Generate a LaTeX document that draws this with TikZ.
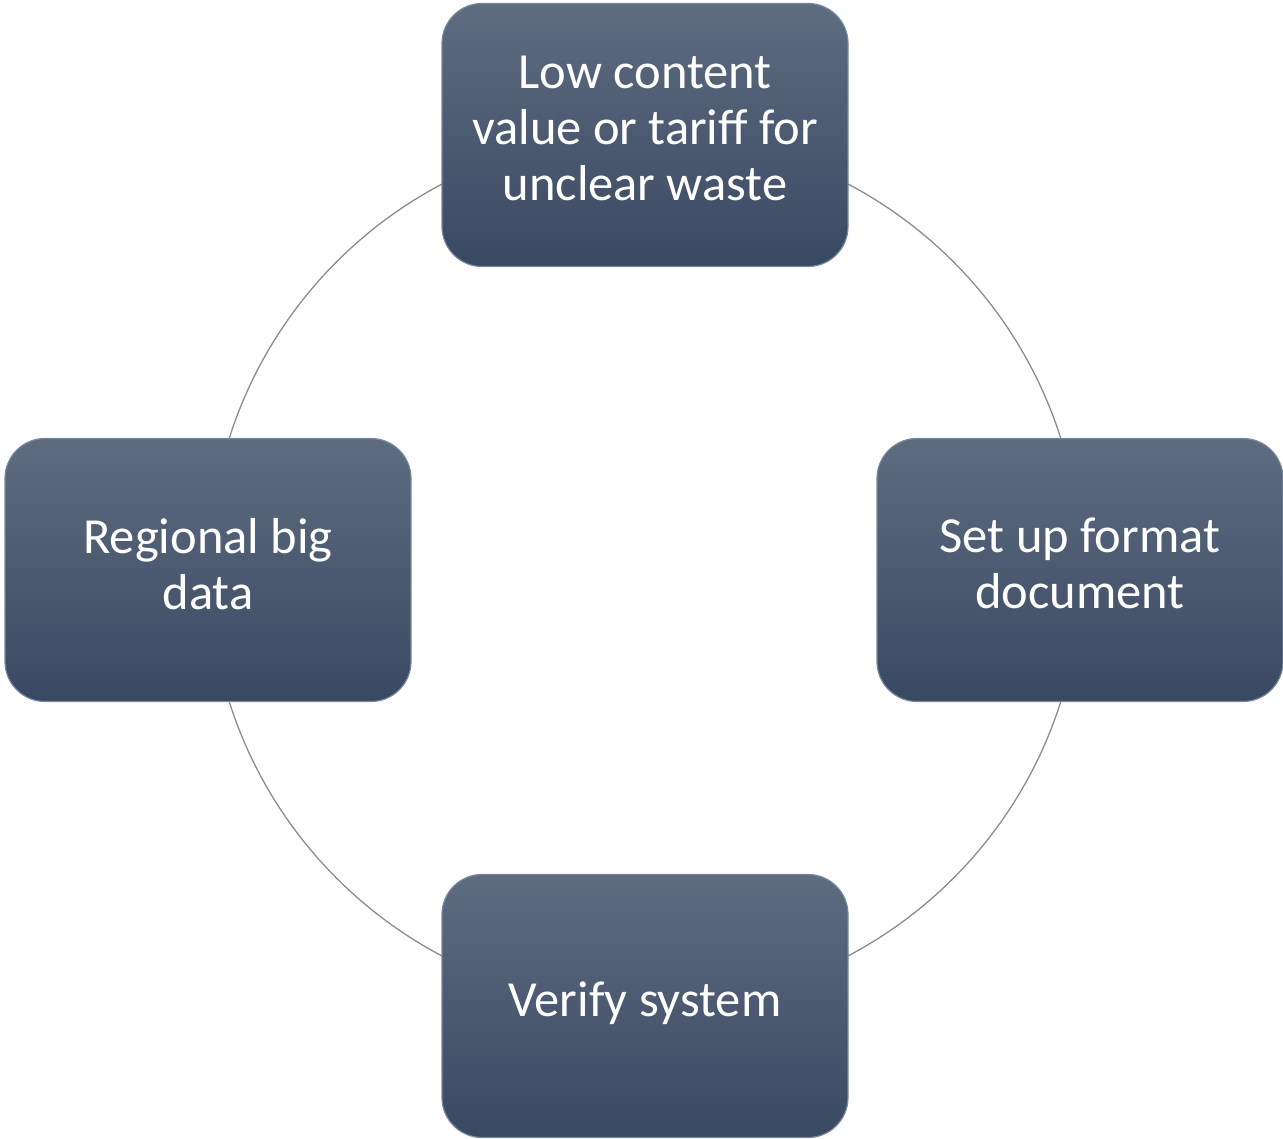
\documentclass[tikz,border=0pt]{standalone}
\usepackage{fontspec}
\setmainfont{Carlito}
\begin{document}
\begin{tikzpicture}[x=1pt,y=-1pt,
  cyclebox/.style={rectangle, rounded corners=40pt, minimum width=406pt, minimum height=263pt,
    top color=boxtop, bottom color=boxbot, draw=boxedge, line width=1.2pt,
    text=white, align=center, font=\fontsize{50.5}{56}\selectfont, inner sep=0pt, text depth=13pt},
  ring/.style={draw=ringgray, line width=1.3pt}]
\definecolor{boxtop}{RGB}{94,108,128}
\definecolor{boxbot}{RGB}{58,73,98}
\definecolor{boxedge}{RGB}{120,135,160}
\definecolor{ringgray}{RGB}{140,140,140}
\useasboundingbox (0,0) rectangle (1283,1139);
\coordinate (c) at (645,570);
\draw[ring] (c) circle (436pt);
\node[cyclebox] (top) at (645,135) {Low content\\value or tariff for\\unclear waste};
\node[cyclebox] (right) at (1080,570) {Set up format\\document};
\node[cyclebox] (bottom) at (645,1006) {Verify system};
\node[cyclebox] (left) at (208,570) {Regional big\\data};
\end{tikzpicture}
\end{document}
